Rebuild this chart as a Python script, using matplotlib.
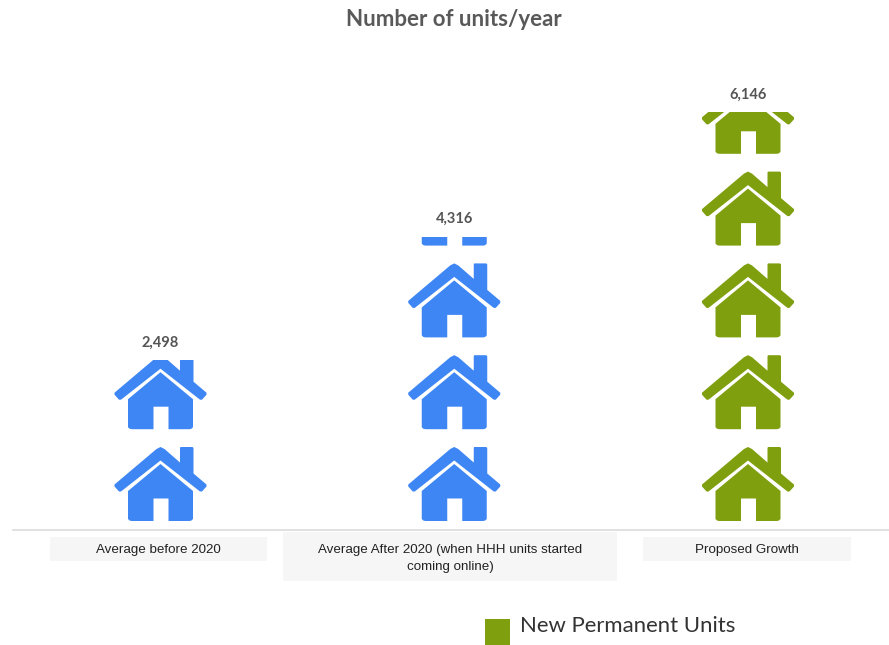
import matplotlib
matplotlib.use("Agg")
import matplotlib.pyplot as plt
from matplotlib.patches import PathPatch, Rectangle
from matplotlib.path import Path
from matplotlib.transforms import Affine2D

categories = ["Average before 2020",
              "Average After 2020 (when HHH units started\ncoming online)",
              "Proposed Growth"]
units_per_year = [2498, 4316, 6146]
value_labels = ["2,498", "4,316", "6,146"]
bar_colors = ["#3f86f5", "#3f86f5", "#7f9f0f"]
legend_label = "New Permanent Units"

units_per_house = 1350
W, H = 889, 645
base_px = 530
px_per_unit = 0.068
col_px = 293.75
first_col_px = 160.5


def fx(px):
    return px / W


def fy(px):
    return 1 - px / H


# house outline, one unit per screen pixel, origin at bottom centre
body = [(-32.5, 2), (-32.5, 30), (0, 57), (32.5, 30), (32.5, 2), (31, 0.5), (29, 0),
        (8, 0), (8, 22.5), (-7, 22.5), (-7, 0), (-29, 0), (-31, 0.5), (-32.5, 2)]
roof = [(-46, 36.5), (-46, 34.5), (-41.5, 29.5), (-39.5, 29.5), (0, 60.5), (39.5, 29.5),
        (41.5, 29.5), (46, 34.5), (46, 36.5), (33, 47.5), (33, 73), (32, 74),
        (20, 74), (19.5, 73), (19.5, 58.5), (4, 72), (0, 74), (-4, 72), (-46, 36.5)]
verts = body + roof
codes = ([Path.MOVETO] + [Path.LINETO] * (len(body) - 2) + [Path.CLOSEPOLY]
         + [Path.MOVETO] + [Path.LINETO] * (len(roof) - 2) + [Path.CLOSEPOLY])
house = Path(verts, codes)

fig = plt.figure(figsize=(W / 100, H / 100), dpi=100)
ax = fig.add_axes([fx(13), fy(base_px), fx(876), fy(0) - fy(base_px)])
ax.set_xlim((13 - first_col_px) / col_px, (889 - first_col_px) / col_px)
ax.set_ylim(0, base_px / px_per_unit)
ax.set_yticks([])
ax.set_xticks([])
for s in ["top", "left", "right"]:
    ax.spines[s].set_visible(False)
ax.spines["bottom"].set_color("#dcdcdc")
ax.spines["bottom"].set_linewidth(1.2)

# stacked houses cut off at the value of each column
for i, value in enumerate(units_per_year):
    clip = Rectangle((i - 0.5, 0), 1, value, transform=ax.transData)
    n = value // units_per_house + 1
    for k in range(n):
        y = k * units_per_house + 9 / px_per_unit
        tr = Affine2D().scale(1 / col_px, 1 / px_per_unit).translate(i, y) + ax.transData
        p = PathPatch(house, facecolor=bar_colors[i], edgecolor="none", transform=tr)
        ax.add_patch(p)
        p.set_clip_path(clip)
    ax.annotate(value_labels[i], (i, value), xytext=(0, 12.5), textcoords="offset points",
                ha="center", va="center", family="Lato", weight="bold",
                fontsize=10.5, color="#555555")

fig.text(fx(454), fy(20), "Number of units/year", ha="center", va="center",
         family="Lato", weight="bold", fontsize=16, color="#595959")

# grey boxes behind the category names
boxes = [(50, 537, 217, 24), (283, 532, 334, 49), (643, 537, 208, 24)]
for x0, y0, w, h in boxes:
    fig.add_artist(Rectangle((fx(x0), fy(y0 + h)), w / W, h / H, transform=fig.transFigure,
                             facecolor="#f6f6f6", edgecolor="none", zorder=0))

label_x = [158, 450, 747]
for name, x in zip(categories, label_x):
    fig.text(fx(x), fy(543.5), name, ha="center", va="top", family="Liberation Sans",
             fontsize=9.6, color="#222222", linespacing=1.6, zorder=2)

# legend
fig.add_artist(Rectangle((fx(485), fy(645)), 25 / W, 26 / H, transform=fig.transFigure,
                         facecolor=bar_colors[2], edgecolor="none"))
fig.text(fx(520), fy(626), legend_label, ha="left", va="center", family="Lato",
         fontsize=15.9, color="#333333")

fig.savefig("out.png", dpi=100)
